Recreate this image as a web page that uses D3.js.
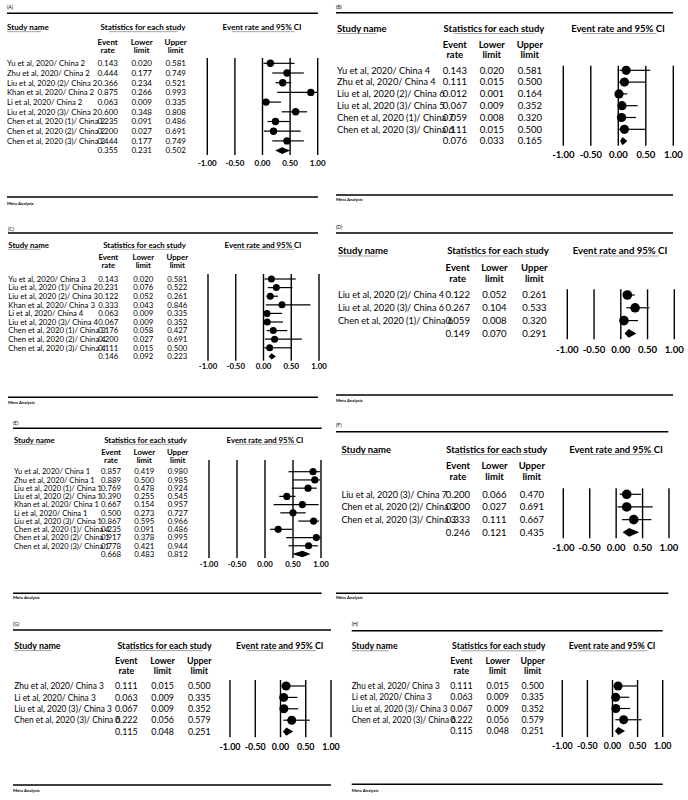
<!DOCTYPE html>
<html><head><meta charset="utf-8">
<script src="https://cdn.jsdelivr.net/npm/d3@7"></script>
<style>
body{margin:0;background:#fff}
svg{display:block}
text{font-family:Lato,"Open Sans","DejaVu Sans",sans-serif;fill:#000}
</style>
</head><body>
<svg id="chart" width="688" height="800"></svg>
<script>
// ---------------- DATA ----------------
const panelLabels = ["(A)","(B)","(C)","(D)","(E)","(F)","(G)","(H)"];
const tickValues = [-1, -0.5, 0, 0.5, 1];
const tickLabels = ["-1.00","-0.50","0.00","0.50","1.00"];
const headerStudy = "Study name";
const headerStats = "Statistics for each study";
const headerCI = "Event rate and 95% CI";
const colHeads = [["Event","rate"],["Lower","limit"],["Upper","limit"]];
const footer = "Meta Analysis";

const namesA = ["Yu et al, 2020/ China 2","Zhu et al, 2020/ China 2","Liu et al, 2020 (2)/ China 2","Khan et al, 2020/ China 2","Li et al, 2020/ China 2","Liu et al, 2020 (3)/ China 2","Chen et al, 2020 (1)/ China 2","Chen et al, 2020 (2)/ China 2","Chen et al, 2020 (3)/ China 2"];
const rateA  = [0.143,0.444,0.366,0.875,0.063,0.600,0.235,0.200,0.444];
const lowerA = [0.020,0.177,0.234,0.266,0.009,0.348,0.091,0.027,0.177];
const upperA = [0.581,0.749,0.521,0.993,0.335,0.808,0.486,0.691,0.749];
const summaryA = [0.355,0.231,0.502];

const namesB = ["Yu et al, 2020/ China 4","Zhu et al, 2020/ China 4","Liu et al, 2020 (2)/ China 6","Liu et al, 2020 (3)/ China 5","Chen et al, 2020 (1)/ China 7","Chen et al, 2020 (3)/ China 6"];
const rateB  = [0.143,0.111,0.012,0.067,0.059,0.111];
const lowerB = [0.020,0.015,0.001,0.009,0.008,0.015];
const upperB = [0.581,0.500,0.164,0.352,0.320,0.500];
const summaryB = [0.076,0.033,0.165];

const namesC = ["Yu et al, 2020/ China 3","Liu et al, 2020 (1)/ China 2","Liu et al, 2020 (2)/ China 3","Khan et al, 2020/ China 3","Li et al, 2020/ China 4","Liu et al, 2020 (3)/ China 4","Chen et al, 2020 (1)/ China 3","Chen et al, 2020 (2)/ China 4","Chen et al, 2020 (3)/ China 4"];
const rateC  = [0.143,0.231,0.122,0.333,0.063,0.067,0.176,0.200,0.111];
const lowerC = [0.020,0.076,0.052,0.043,0.009,0.009,0.058,0.027,0.015];
const upperC = [0.581,0.522,0.261,0.846,0.335,0.352,0.427,0.691,0.500];
const summaryC = [0.146,0.092,0.223];

const namesD = ["Liu et al, 2020 (2)/ China 4","Liu et al, 2020 (3)/ China 6","Chen et al, 2020 (1)/ China 6"];
const rateD  = [0.122,0.267,0.059];
const lowerD = [0.052,0.104,0.008];
const upperD = [0.261,0.533,0.320];
const summaryD = [0.149,0.070,0.291];

const namesE = ["Yu et al, 2020/ China 1","Zhu et al, 2020/ China 1","Liu et al, 2020 (1)/ China 1","Liu et al, 2020 (2)/ China 1","Khan et al, 2020/ China 1","Li et al, 2020/ China 1","Liu et al, 2020 (3)/ China 1","Chen et al, 2020 (1)/ China 4","Chen et al, 2020 (2)/ China 1","Chen et al, 2020 (3)/ China 1"];
const rateE  = [0.857,0.889,0.769,0.390,0.667,0.500,0.867,0.235,0.917,0.778];
const lowerE = [0.419,0.500,0.478,0.255,0.154,0.273,0.595,0.091,0.378,0.421];
const upperE = [0.980,0.985,0.924,0.545,0.957,0.727,0.966,0.486,0.995,0.944];
const summaryE = [0.668,0.483,0.812];

const namesF = ["Liu et al, 2020 (3)/ China 7","Chen et al, 2020 (2)/ China 3","Chen et al, 2020 (3)/ China 3"];
const rateF  = [0.200,0.200,0.333];
const lowerF = [0.066,0.027,0.111];
const upperF = [0.470,0.691,0.667];
const summaryF = [0.246,0.121,0.435];

const namesG = ["Zhu et al, 2020/ China 3","Li et al, 2020/ China 3","Liu et al, 2020 (3)/ China 3","Chen et al, 2020 (3)/ China 6"];
const rateG  = [0.111,0.063,0.067,0.222];
const lowerG = [0.015,0.009,0.009,0.056];
const upperG = [0.500,0.335,0.352,0.579];
const summaryG = [0.115,0.048,0.251];

const namesH = ["Zhu et al, 2020/ China 3","Li et al, 2020/ China 3","Liu et al, 2020 (3)/ China 3","Chen et al, 2020 (3)/ China 6"];
const rateH  = [0.111,0.063,0.067,0.222];
const lowerH = [0.015,0.009,0.009,0.056];
const upperH = [0.500,0.335,0.352,0.579];
const summaryH = [0.115,0.048,0.251];

// ---------------- LAYOUT ----------------
// nw = rendered width of the first study name in the reference
const layouts = [
 {nx:7,   nw:78,  rl:[7,318],     labY:7,     rt:13.3,  rb:197,   ma:203,   hy:27.3,  ey:[41.7,50],   sx:143,   cx:262,   cols:[107.7,141.7,175.7], r0:63.3,  dy:9.7,  fx:[207.3,317.7], ly:[58,155],      ty:163,   fs:8,   r:3.7},
 {nx:337, nw:93,  rl:[336,673],   labY:7,     rt:12.7,  rb:195,   ma:199.5, hy:28.3,  ey:[44.3,54.3], sx:494,   cx:618,   cols:[454.8,491.8,529.8], r0:70.3,  dy:11.8, fx:[563.3,673.3], ly:[65.7,145.7],  ty:154.3, fs:9.5, r:4.6},
 {nx:8.3, nw:77.5,rl:[8,318],     labY:229,   rt:233,   rb:397.3, ma:402.5, hy:245,   ey:[257.3,265.7],sx:144.5,cx:263,   cols:[108.3,143.3,177.3], r0:279,   dy:8.6,  fx:[208,319],     ly:[274,360.7],   ty:366,   fs:7.8, r:3.5},
 {nx:338, nw:106, rl:[336,673],   labY:227.3, rt:233,   rb:395,   ma:400,   hy:250.7, ey:[267.7,278.3],sx:498,  cx:620,   cols:[457.7,494.4,534.4], r0:295,   dy:12.8, fx:[567.3,674.3], ly:[289.3,339.3], ty:349.3, fs:9.6, r:4.8},
 {nx:14,  nw:76,  rl:[13,321.7],  labY:423.3, rt:428.3, rb:593.3, ma:597.5, hy:440,   ey:[452.3,460], sx:145.5, cx:265,   cols:[111,144.3,177.7],   r0:471.7, dy:8.23, fx:[209,321],     ly:[460,558],     ty:564,   fs:7.8, r:3.6},
 {nx:341.5,nw:105.5,rl:[336,668.3],labY:425,  rt:431.7, rb:593.3, ma:597.5, hy:449.3, ey:[466,476.7], sx:496.7, cx:616,   cols:[458,494.5,531.8],   r0:494.3, dy:12.67,fx:[563.3,669],   ly:[488.3,538.3], ty:547.7, fs:9.5, r:4.8},
 {nx:14.3,nw:89.5,rl:[13,331],    labY:624,   rt:630,   rb:785,   ma:790.7, hy:645.7, ey:[661,670.7], sx:164.5, cx:279.8, cols:[126.3,162.6,199.3], r0:686,   dy:11.4, fx:[230,331],     ly:[680,737.3],   ty:746.7, fs:8.9, r:4.5},
 {nx:351.7,nw:88, rl:[351.7,662.7],labY:624,  rt:630.7, rb:784.3, ma:790,   hy:646,   ey:[661.3,670.7],sx:498.7,cx:612,   cols:[461.4,497.7,532.7], r0:686,   dy:11.25,fx:[562.3,662.7], ly:[680,737],     ty:745.7, fs:8.8, r:4.5}
];

const panelData = [
 {names:namesA, rate:rateA, lower:lowerA, upper:upperA, summary:summaryA},
 {names:namesB, rate:rateB, lower:lowerB, upper:upperB, summary:summaryB},
 {names:namesC, rate:rateC, lower:lowerC, upper:upperC, summary:summaryC},
 {names:namesD, rate:rateD, lower:lowerD, upper:upperD, summary:summaryD},
 {names:namesE, rate:rateE, lower:lowerE, upper:upperE, summary:summaryE},
 {names:namesF, rate:rateF, lower:lowerF, upper:upperF, summary:summaryF},
 {names:namesG, rate:rateG, lower:lowerG, upper:upperG, summary:summaryG},
 {names:namesH, rate:rateH, lower:lowerH, upper:upperH, summary:summaryH}
];

const svg = d3.select("#chart");
svg.append("rect").attr("width",688).attr("height",800).attr("fill","#fff");
const fmt = d3.format(".3f");

function underline(g, textSel, y, a, b){
  const bb = textSel.node().getBBox();
  g.append("line").attr("x1", bb.x + bb.width*a).attr("x2", bb.x + bb.width*b)
    .attr("y1", y).attr("y2", y).attr("stroke","#8a8a8a").attr("stroke-width",0.8);
}

panelData.forEach((d, p) => {
  const L = layouts[p];
  const g = svg.append("g");
  const fs = L.fs;

  // panel label and rules
  g.append("text").attr("x", L.rl[0]).attr("y", L.labY).attr("dy","0.35em")
    .attr("font-size", 5).text(panelLabels[p]);
  g.append("line").attr("x1",L.rl[0]).attr("x2",L.rl[1]).attr("y1",L.rt).attr("y2",L.rt)
    .attr("stroke","#000").attr("stroke-width",1.6);
  g.append("line").attr("x1",L.rl[0]).attr("x2",L.rl[1]).attr("y1",L.rb).attr("y2",L.rb)
    .attr("stroke","#000").attr("stroke-width",1.6);
  g.append("text").attr("x", L.rl[0]).attr("y", L.ma).attr("dy","0.35em")
    .attr("font-size", 4.3).attr("font-weight","bold").text(footer);

  // headers
  const hs = g.append("text").attr("x", L.nx).attr("y", L.hy).attr("dy","0.35em")
    .attr("font-size", fs).attr("font-weight","bold").text(headerStudy);
  underline(g, hs, L.hy + fs*0.55, 0, 0.8);
  const hst = g.append("text").attr("x", L.sx).attr("y", L.hy).attr("dy","0.35em")
    .attr("text-anchor","middle").attr("font-size", fs).attr("font-weight","bold").text(headerStats);
  underline(g, hst, L.hy + fs*0.55, 0.1, 0.9);
  const hci = g.append("text").attr("x", L.cx).attr("y", L.hy).attr("dy","0.35em")
    .attr("text-anchor","middle").attr("font-size", fs).attr("font-weight","bold").text(headerCI);
  underline(g, hci, L.hy + fs*0.55, 0.12, 0.91);

  colHeads.forEach((h, c) => {
    h.forEach((t, k) => {
      g.append("text").attr("x", L.cols[c]).attr("y", L.ey[k]).attr("dy","0.35em")
        .attr("text-anchor","middle").attr("font-size", fs).attr("font-weight","bold").text(t);
    });
  });

  // scales
  const n = d.names.length;
  const x = d3.scaleLinear().domain([-1, 1]).range(L.fx);
  const y = d3.scaleLinear().domain([0, n]).range([L.r0, L.r0 + n * L.dy]);

  // study names, horizontally condensed to the reference's narrower face
  let k = 1;
  d.names.forEach((name, i) => {
    const t = g.append("text").attr("x", L.nx).attr("y", y(i)).attr("dy","0.35em")
      .attr("font-size", fs).text(name);
    const w = t.node().getComputedTextLength();
    if (i === 0) k = L.nw / w;
    t.attr("textLength", w * k).attr("lengthAdjust", "spacingAndGlyphs");
  });
  const vals = [d.rate, d.lower, d.upper];
  vals.forEach((arr, c) => {
    arr.forEach((v, i) => {
      g.append("text").attr("x", L.cols[c]).attr("y", y(i)).attr("dy","0.35em")
        .attr("text-anchor","middle").attr("font-size", fs).text(fmt(v));
    });
    g.append("text").attr("x", L.cols[c]).attr("y", y(n)).attr("dy","0.35em")
      .attr("text-anchor","middle").attr("font-size", fs).text(fmt(d.summary[c]));
  });

  // forest grid lines
  tickValues.forEach((t, j) => {
    g.append("line").attr("x1", x(t)).attr("x2", x(t)).attr("y1", L.ly[0]).attr("y2", L.ly[1])
      .attr("stroke","#000").attr("stroke-width",1.4);
    g.append("text").attr("x", x(t)).attr("y", L.ty).attr("dy","0.35em")
      .attr("text-anchor","middle").attr("font-size", fs).attr("font-weight","bold").text(tickLabels[j]);
  });

  // CI lines and points
  d.rate.forEach((v, i) => {
    g.append("line").attr("x1", x(d.lower[i])).attr("x2", x(d.upper[i]))
      .attr("y1", y(i)).attr("y2", y(i)).attr("stroke","#000").attr("stroke-width",1.2);
    g.append("circle").attr("cx", x(v)).attr("cy", y(i)).attr("r", L.r).attr("fill","#000");
  });

  // summary diamond
  const sy = y(n), h = L.r * 0.9;
  const [sr, sl, su] = d.summary;
  g.append("path")
    .attr("d", `M${x(sl)},${sy}L${x(sr)},${sy - h}L${x(su)},${sy}L${x(sr)},${sy + h}Z`)
    .attr("fill","#000");
});
</script>
</body></html>
